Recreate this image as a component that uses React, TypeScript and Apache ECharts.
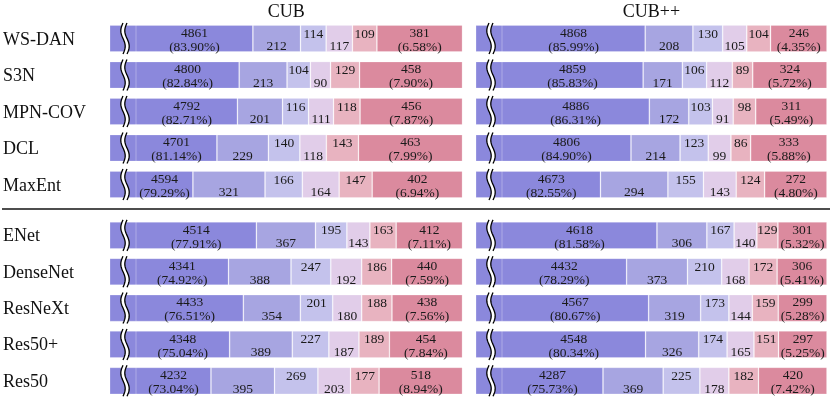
import React, { useEffect, useRef } from 'react';
import * as echarts from 'echarts';

const panelTitles = ['CUB', 'CUB++'];
const topMethods = ['WS-DAN', 'S3N', 'MPN-COV', 'DCL', 'MaxEnt'];
const bottomMethods = ['ENet', 'DenseNet', 'ResNeXt', 'Res50+', 'Res50'];

// each row: [first (correct), 2nd, 3rd, 4th, 5th, 6th]
const cubTop = [
  [4861, 212, 114, 117, 109, 381],
  [4800, 213, 104, 90, 129, 458],
  [4792, 201, 116, 111, 118, 456],
  [4701, 229, 140, 118, 143, 463],
  [4594, 321, 166, 164, 147, 402],
];
const cubBottom = [
  [4514, 367, 195, 143, 163, 412],
  [4341, 388, 247, 192, 186, 440],
  [4433, 354, 201, 180, 188, 438],
  [4348, 389, 227, 187, 189, 454],
  [4232, 395, 269, 203, 177, 518],
];
const cubppTop = [
  [4868, 208, 130, 105, 104, 246],
  [4859, 171, 106, 112, 89, 324],
  [4886, 172, 103, 91, 98, 311],
  [4806, 214, 123, 99, 86, 333],
  [4673, 294, 155, 143, 124, 272],
];
const cubppBottom = [
  [4618, 306, 167, 140, 129, 301],
  [4432, 373, 210, 168, 172, 306],
  [4567, 319, 173, 144, 159, 299],
  [4548, 326, 174, 165, 151, 297],
  [4287, 369, 225, 178, 182, 420],
];

// truncated (broken) axis starts
const axisMins = [4225, 3605, 4130, 3508];

const COLORS = ['#8b88dc', '#a7a5e1', '#c4c2ec', '#e1cde9', '#e8b3c0', '#db8a9e'];
const FONT = "'Liberation Serif', 'DejaVu Serif', serif";
const TXT = '#1a1a1a';
const LFS = 13.5;
const LH = 14;

const BAR_H = 27;

export default function App() {
  const ref = useRef<HTMLDivElement>(null);
  useEffect(() => {
    if (!ref.current) return;
    const chart = echarts.init(ref.current, undefined, { renderer: 'svg' });

    const grids = [
      { left: 110, top: 20.25, width: 352.5, height: 182.5 },
      { left: 110, top: 217.2, width: 352.5, height: 183 },
      { left: 476, top: 20.25, width: 351, height: 182.5 },
      { left: 476, top: 217.2, width: 351, height: 183 },
    ];
    const panels = [
      { rows: cubTop, names: topMethods, labels: true },
      { rows: cubBottom, names: bottomMethods, labels: true },
      { rows: cubppTop, names: topMethods, labels: false },
      { rows: cubppBottom, names: bottomMethods, labels: false },
    ];

    const xAxis: any[] = [];
    const yAxis: any[] = [];
    const series: any[] = [];

    panels.forEach((p, gi) => {
      const total = p.rows[0].reduce((a, b) => a + b, 0);
      const min = axisMins[gi];
      xAxis.push({ type: 'value', gridIndex: gi, min, max: total, show: false });
      yAxis.push({
        type: 'category',
        gridIndex: gi,
        data: p.names,
        inverse: true,
        axisLine: { show: false },
        axisTick: { show: false },
        splitLine: { show: false },
        axisLabel: {
          show: p.labels,
          align: 'left',
          margin: 107,
          fontFamily: FONT,
          fontSize: 18,
          color: '#111',
        },
      });
      for (let k = 0; k < 6; k++) {
        const labelCfg: any = {
          show: k > 0,
          position: 'inside',
          fontFamily: FONT,
          fontSize: LFS,
          color: TXT,
        };
        if (k === 1 || k === 3) labelCfg.offset = [0, 7.3];
        if (k === 2 || k === 4) labelCfg.offset = [0, -5.5];
        if (k === 5) {
          labelCfg.offset = [0, 0.8];
          labelCfg.lineHeight = LH;
          labelCfg.formatter = (prm: any) =>
            `${prm.value}\n(${((prm.value / total) * 100).toFixed(2)}%)`;
        }
        series.push({
          type: 'bar',
          xAxisIndex: gi,
          yAxisIndex: gi,
          stack: 'p' + gi,
          barWidth: BAR_H,
          clip: true,
          data: p.rows.map((r) => r[k]),
          itemStyle: {
            color: COLORS[k],
            borderColor: 'rgba(255,255,255,0.3)',
            borderWidth: 0.8,
          },
          label: labelCfg,
          silent: true,
        });
      }
      // broken-axis marks and labels of the first segment
      series.push({
        type: 'custom',
        xAxisIndex: gi,
        yAxisIndex: gi,
        z: 10,
        clip: false,
        silent: true,
        encode: { x: 0, y: 1 },
        data: p.rows.map((r, i) => [r[0], i]),
        renderItem: (params: any, api: any) => {
          const first = api.value(0);
          const row = api.value(1);
          const p0 = api.coord([min, row]);
          const p1 = api.coord([first, row]);
          const cy = p0[1];
          const bx = p0[0] + 15;
          const top = cy - BAR_H / 2 - 2;
          const bot = cy + BAR_H / 2 + 2;
          const amp = 2.2;
          const gap = 4;
          const n = 28;
          const left: number[][] = [];
          const right: number[][] = [];
          for (let i = 0; i <= n; i++) {
            const t = i / n;
            const y = top + (bot - top) * t;
            const dx = -amp * Math.sin(2 * Math.PI * t);
            left.push([bx - gap / 2 + dx, y]);
            right.push([bx + gap / 2 + dx, y]);
          }
          const sx = p0[0] + 26;
          const lx = (sx + p1[0]) / 2;
          const pct = ((first / total) * 100).toFixed(2);
          return {
            type: 'group',
            children: [
              {
                type: 'line',
                shape: { x1: sx, y1: cy - BAR_H / 2, x2: sx, y2: cy + BAR_H / 2 },
                style: { stroke: 'rgba(255,255,255,0.3)', lineWidth: 1 },
              },
              {
                type: 'polygon',
                shape: { points: left.concat(right.slice().reverse()) },
                style: { fill: '#ffffff' },
              },
              {
                type: 'polyline',
                shape: { points: left },
                style: { stroke: '#000', lineWidth: 1.3, fill: null },
              },
              {
                type: 'polyline',
                shape: { points: right },
                style: { stroke: '#000', lineWidth: 1.3, fill: null },
              },
              {
                type: 'text',
                style: {
                  text: `${first}\n(${pct}%)`,
                  x: lx,
                  y: cy + 0.8,
                  align: 'center',
                  verticalAlign: 'middle',
                  lineHeight: LH,
                  fontFamily: FONT,
                  fontSize: LFS,
                  fill: TXT,
                },
              },
            ],
          };
        },
      });
    });

    chart.setOption({
      animation: false,
      textStyle: { fontFamily: FONT },
      grid: grids,
      xAxis,
      yAxis,
      series,
      graphic: [
        {
          type: 'line',
          shape: { x1: 2, y1: 209, x2: 830, y2: 209 },
          style: { stroke: '#4d4d4d', lineWidth: 2 },
        },
        {
          type: 'text',
          x: 110 + 352.5 / 2,
          y: 10.5,
          style: {
            text: panelTitles[0],
            align: 'center',
            verticalAlign: 'middle',
            fontFamily: FONT,
            fontSize: 18,
            fill: '#111',
          },
        },
        {
          type: 'text',
          x: 476 + 351 / 2,
          y: 10.5,
          style: {
            text: panelTitles[1],
            align: 'center',
            verticalAlign: 'middle',
            fontFamily: FONT,
            fontSize: 18,
            fill: '#111',
          },
        },
      ],
    });
    return () => chart.dispose();
  }, []);
  return (
    <div
      ref={ref}
      style={{ position: 'fixed', left: 0, top: 0, width: 830, height: 399 }}
    />
  );
}
